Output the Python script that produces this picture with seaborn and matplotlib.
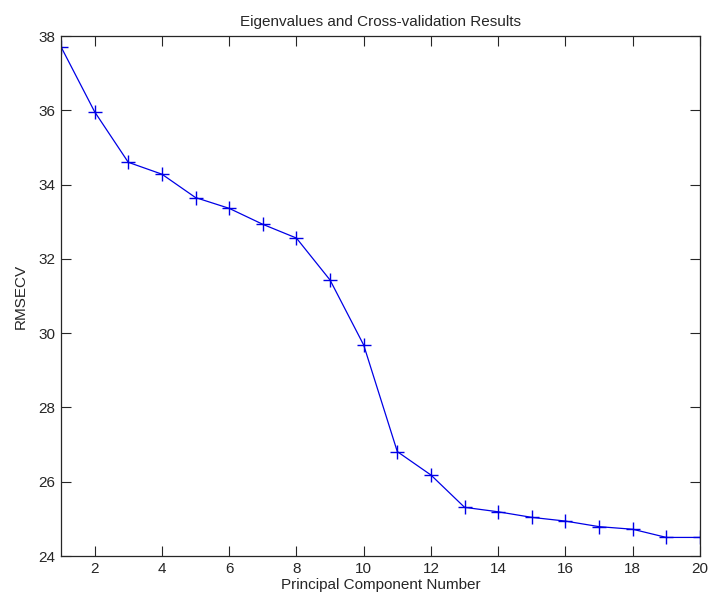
import matplotlib
matplotlib.use("Agg")
import matplotlib.pyplot as plt
import seaborn as sns
import pandas as pd

components = list(range(1, 21))
rmsecv = [37.71, 35.96, 34.60, 34.28, 33.65, 33.36, 32.93, 32.56, 31.43, 29.68,
          26.81, 26.18, 25.31, 25.19, 25.04, 24.94, 24.79, 24.72, 24.50, 24.50]
xticks = list(range(2, 21, 2))
yticks = list(range(24, 39, 2))

sns.set_style("white")
plt.rcParams['font.family'] = ['Liberation Sans', 'DejaVu Sans']

df = pd.DataFrame({"pc": components, "rmsecv": rmsecv})

fig = plt.figure(figsize=(7.11, 5.96), dpi=100)
ax = fig.add_axes([61/711, 40/596, 639/711, 520/596])
sns.lineplot(data=df, x="pc", y="rmsecv", ax=ax, color="#0000e6", linewidth=0.9,
             marker="+", markersize=10, markeredgewidth=1.0, markeredgecolor="#0000e6")
ax.set_xlim(1, 20)
ax.set_ylim(24, 38)
ax.set_xticks(xticks)
ax.set_yticks(yticks)
ax.tick_params(direction="in", length=7, width=0.8, color="#262626", labelsize=11,
               top=True, right=True, bottom=True, left=True, pad=4, labelcolor="#262626")
for s in ax.spines.values():
    s.set_color("#262626")
    s.set_linewidth(0.9)
    s.set_visible(True)
ax.set_xlabel("Principal Component Number", fontsize=11, color="#262626", labelpad=2)
ax.set_ylabel("RMSECV", fontsize=11, color="#262626", labelpad=8)
ax.set_title("Eigenvalues and Cross-validation Results", fontsize=11, color="#262626", pad=7)
fig.savefig("out.png", dpi=100)
